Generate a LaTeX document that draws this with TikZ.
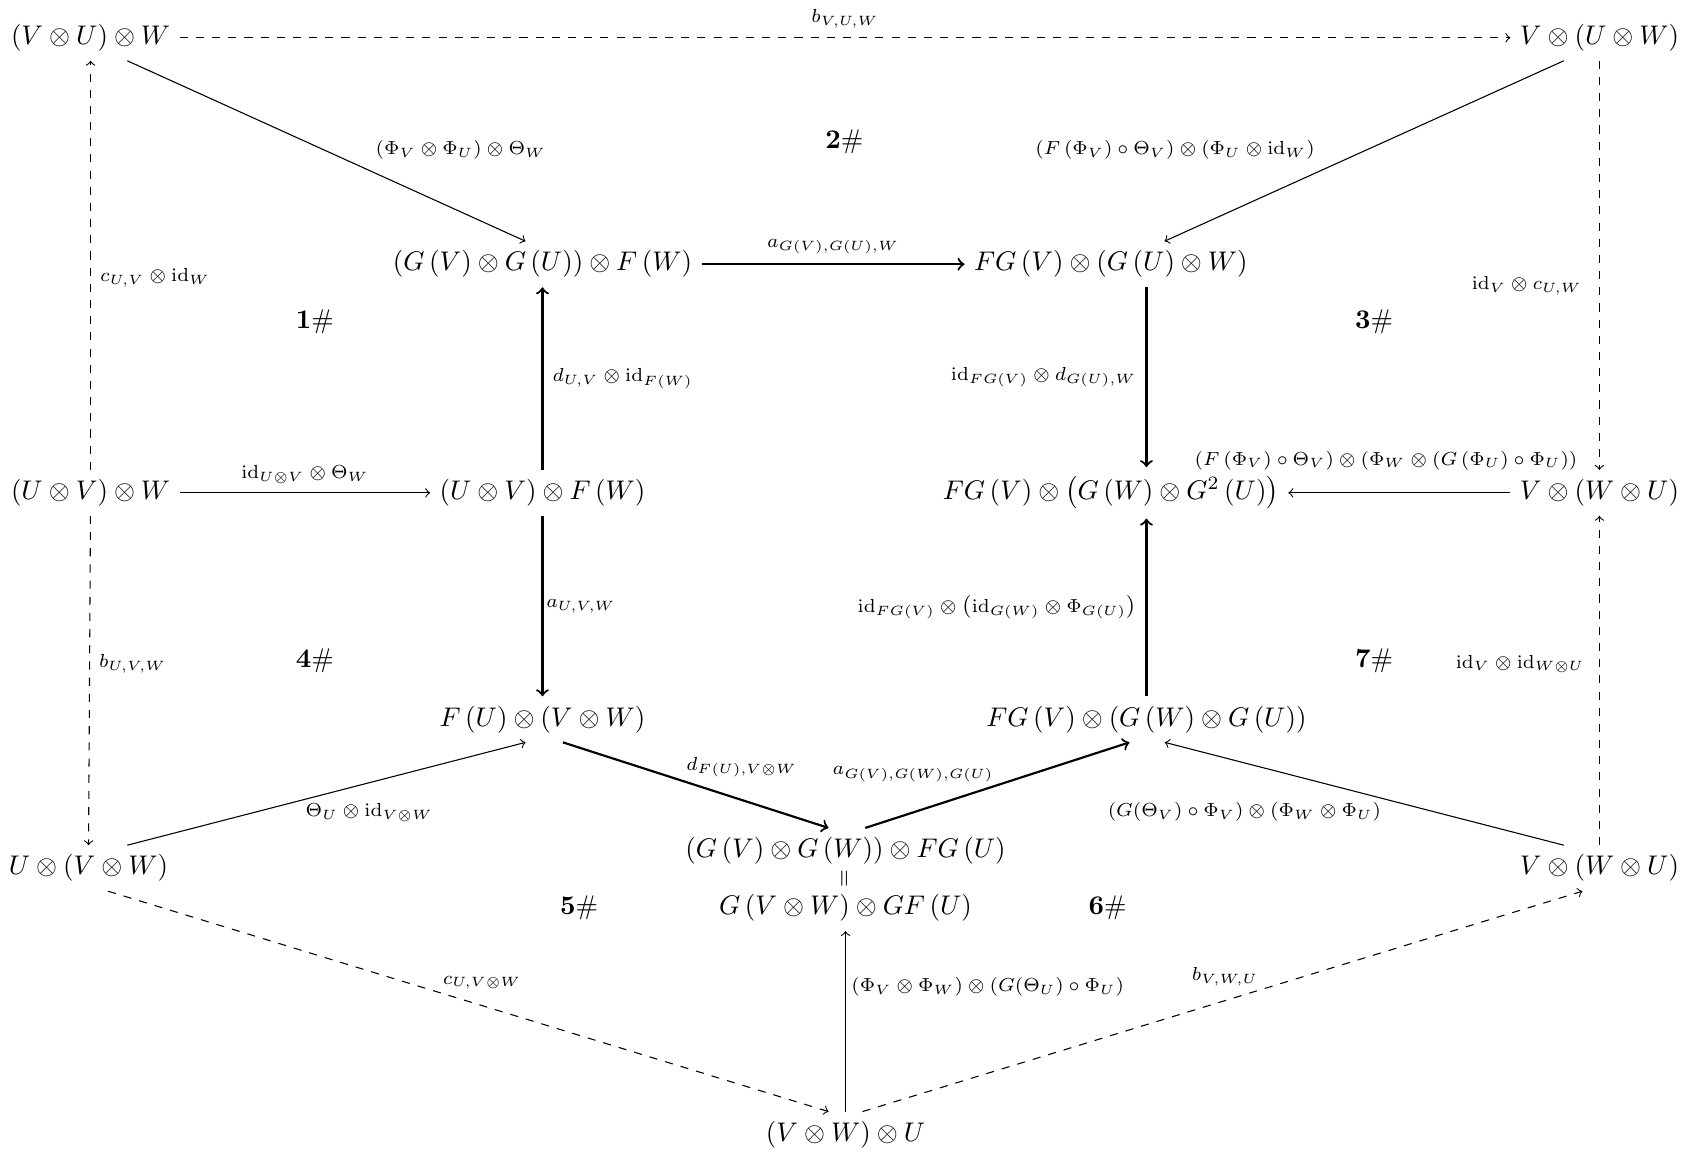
\documentclass[tikz,border=0pt]{standalone}
\usepackage{amsmath}
\newcommand{\lr}[1]{\left(#1\right)}
\begin{document}
\begin{tikzpicture}[x=0.40pt, y=-0.40pt,
    lbl/.style={font=\scriptsize},
    arr/.style={->},
    tharr/.style={->, thick},
    darr/.style={->, dashed}]
    \useasboundingbox (0, 0) rectangle (1567, 1075);

    % objects
    \node (A) at (84, 35) {$(V\otimes U)\otimes W$};
    \node (B) at (1483, 35) {$V\otimes(U\otimes W)$};
    \node (C) at (503, 245) {$\lr{G\lr{V}\otimes G\lr{U}}\otimes F\lr{W}$};
    \node (D) at (1030, 245) {$FG\lr{V}\otimes\lr{G\lr{U}\otimes W}$};
    \node (E) at (84, 457) {$(U\otimes V)\otimes W$};
    \node (F) at (503, 457) {$(U\otimes V)\otimes F\lr{W}$};
    \node (G) at (1030, 457) {$FG\lr{V}\otimes\lr{G\lr{W}\otimes G^{2}\lr{U}}$};
    \node (H) at (1483, 457) {$V\otimes(W\otimes U)$};
    \node (I) at (503, 667) {$F\lr{U}\otimes(V\otimes W)$};
    \node (J) at (1063, 667) {$FG\lr{V}\otimes\lr{G\lr{W}\otimes G\lr{U}}$};
    \node (K) at (82, 805) {$U\otimes(V\otimes W)$};
    \node (M) at (1483, 805) {$V\otimes(W\otimes U)$};
    \node (L) at (784, 789) {$\lr{G\lr{V}\otimes G\lr{W}}\otimes FG\lr{U}$};
    \node[rotate=90, font=\footnotesize, inner sep=0pt] (eq) at (784, 815) {$=$};
    \node (L2) at (784, 842) {$G\lr{V\otimes W}\otimes GF\lr{U}$};
    \node (N) at (784, 1052) {$(V\otimes W)\otimes U$};

    % faces
    \node (f1) at (292, 298) {$\mathbf{1}\#$};
    \node (f2) at (783, 131) {$\mathbf{2}\#$};
    \node (f3) at (1274, 298) {$\mathbf{3}\#$};
    \node (f4) at (292, 613) {$\mathbf{4}\#$};
    \node (f5) at (537, 842) {$\mathbf{5}\#$};
    \node (f6) at (1027, 842) {$\mathbf{6}\#$};
    \node (f7) at (1274, 613) {$\mathbf{7}\#$};

    % outer dashed arrows
    \draw[darr] (A) -- (B) node[lbl, midway, above] {$b_{V,U,W}$};
    \draw[darr] (E) -- (A) node[lbl, pos=0.47, right] {$c_{U,V}\otimes\mathrm{id}_W$};
    \draw[darr] (E) -- (K) node[lbl, pos=0.45, right] {$b_{U,V,W}$};
    \draw[darr] (B) -- (H) node[lbl, pos=0.55, left=3pt] {$\mathrm{id}_V\otimes c_{U,W}$};
    \draw[darr] (M) -- (H) node[lbl, pos=0.55, left=2pt] {$\mathrm{id}_V\otimes\mathrm{id}_{W\otimes U}$};
    \draw[darr] ([xshift=7.3pt]K.south) -- ([xshift=-6.3pt]N.north)
        node[lbl, pos=0.46, above right, inner sep=1pt] {$c_{U,V\otimes W}$};
    \draw[darr] ([xshift=6.3pt]N.north) -- ([xshift=-6.3pt]M.south)
        node[lbl, pos=0.554, above left, inner sep=1pt] {$b_{V,W,U}$};

    % thin arrows
    \draw[arr] ([xshift=13.6pt]A.south) -- ([xshift=-6.3pt]C.north)
        node[lbl, pos=0.6, above right] {$\lr{\Phi_V\otimes\Phi_U}\otimes\Theta_W$};
    \draw[arr] ([xshift=-13.2pt]B.south) -- ([xshift=19.9pt]D.north)
        node[lbl, pos=0.6, above left] {$\lr{F\lr{\Phi_V}\circ\Theta_V}\otimes\lr{\Phi_U\otimes\mathrm{id}_W}$};
    \draw[arr] (E) -- (F) node[lbl, midway, above] {$\mathrm{id}_{U\otimes V}\otimes\Theta_W$};
    \draw[arr] (H) -- (G) node[lbl, pos=0.56, above=5pt]
        {$\lr{F\lr{\Phi_V}\circ\Theta_V}\otimes\lr{\Phi_W\otimes\lr{G\lr{\Phi_U}\circ\Phi_U}}$};
    \draw[arr] ([xshift=14.4pt]K.north) -- ([xshift=-6.3pt]I.south)
        node[lbl, pos=0.44, below right, inner sep=1pt] {$\Theta_U\otimes\mathrm{id}_{V\otimes W}$};
    \draw[arr] ([xshift=-13.2pt]M.north) -- ([xshift=6.8pt]J.south)
        node[lbl, pos=0.45, below left, inner sep=1pt] {$\lr{G(\Theta_V)\circ\Phi_V}\otimes\lr{\Phi_W\otimes\Phi_U}$};
    \draw[arr] (N) -- (L2) node[lbl, pos=0.69, right, inner sep=2pt]
        {$\lr{\Phi_V\otimes\Phi_W}\otimes\lr{G(\Theta_U)\circ\Phi_U}$};

    % thick arrows
    \draw[tharr] (C) -- (D) node[lbl, midway, above] {$a_{G(V),G(U),W}$};
    \draw[tharr] (F) -- (C) node[lbl, midway, right] {$d_{U,V}\otimes\mathrm{id}_{F(W)}$};
    \draw[tharr] (D.south -| J.north) -- (G.north -| J.north)
        node[lbl, midway, left] {$\mathrm{id}_{FG(V)}\otimes d_{G(U),W}$};
    \draw[tharr] (F) -- (I) node[lbl, midway, right, inner sep=1pt] {$a_{U,V,W}$};
    \draw[tharr] (J) -- (G.south -| J.north)
        node[lbl, midway, left] {$\mathrm{id}_{FG(V)}\otimes\lr{\mathrm{id}_{G(W)}\otimes\Phi_{G(U)}}$};
    \draw[tharr] ([xshift=7.6pt]I.south) -- ([xshift=-6.3pt]L.north)
        node[lbl, pos=0.45, above right, inner sep=1pt] {$d_{F(U),V\otimes W}$};
    \draw[tharr] ([xshift=7.3pt]L.north) -- ([xshift=-6.3pt]J.south)
        node[lbl, midway, above left, inner sep=1pt] {$a_{G(V),G(W),G(U)}$};
\end{tikzpicture}
\end{document}
